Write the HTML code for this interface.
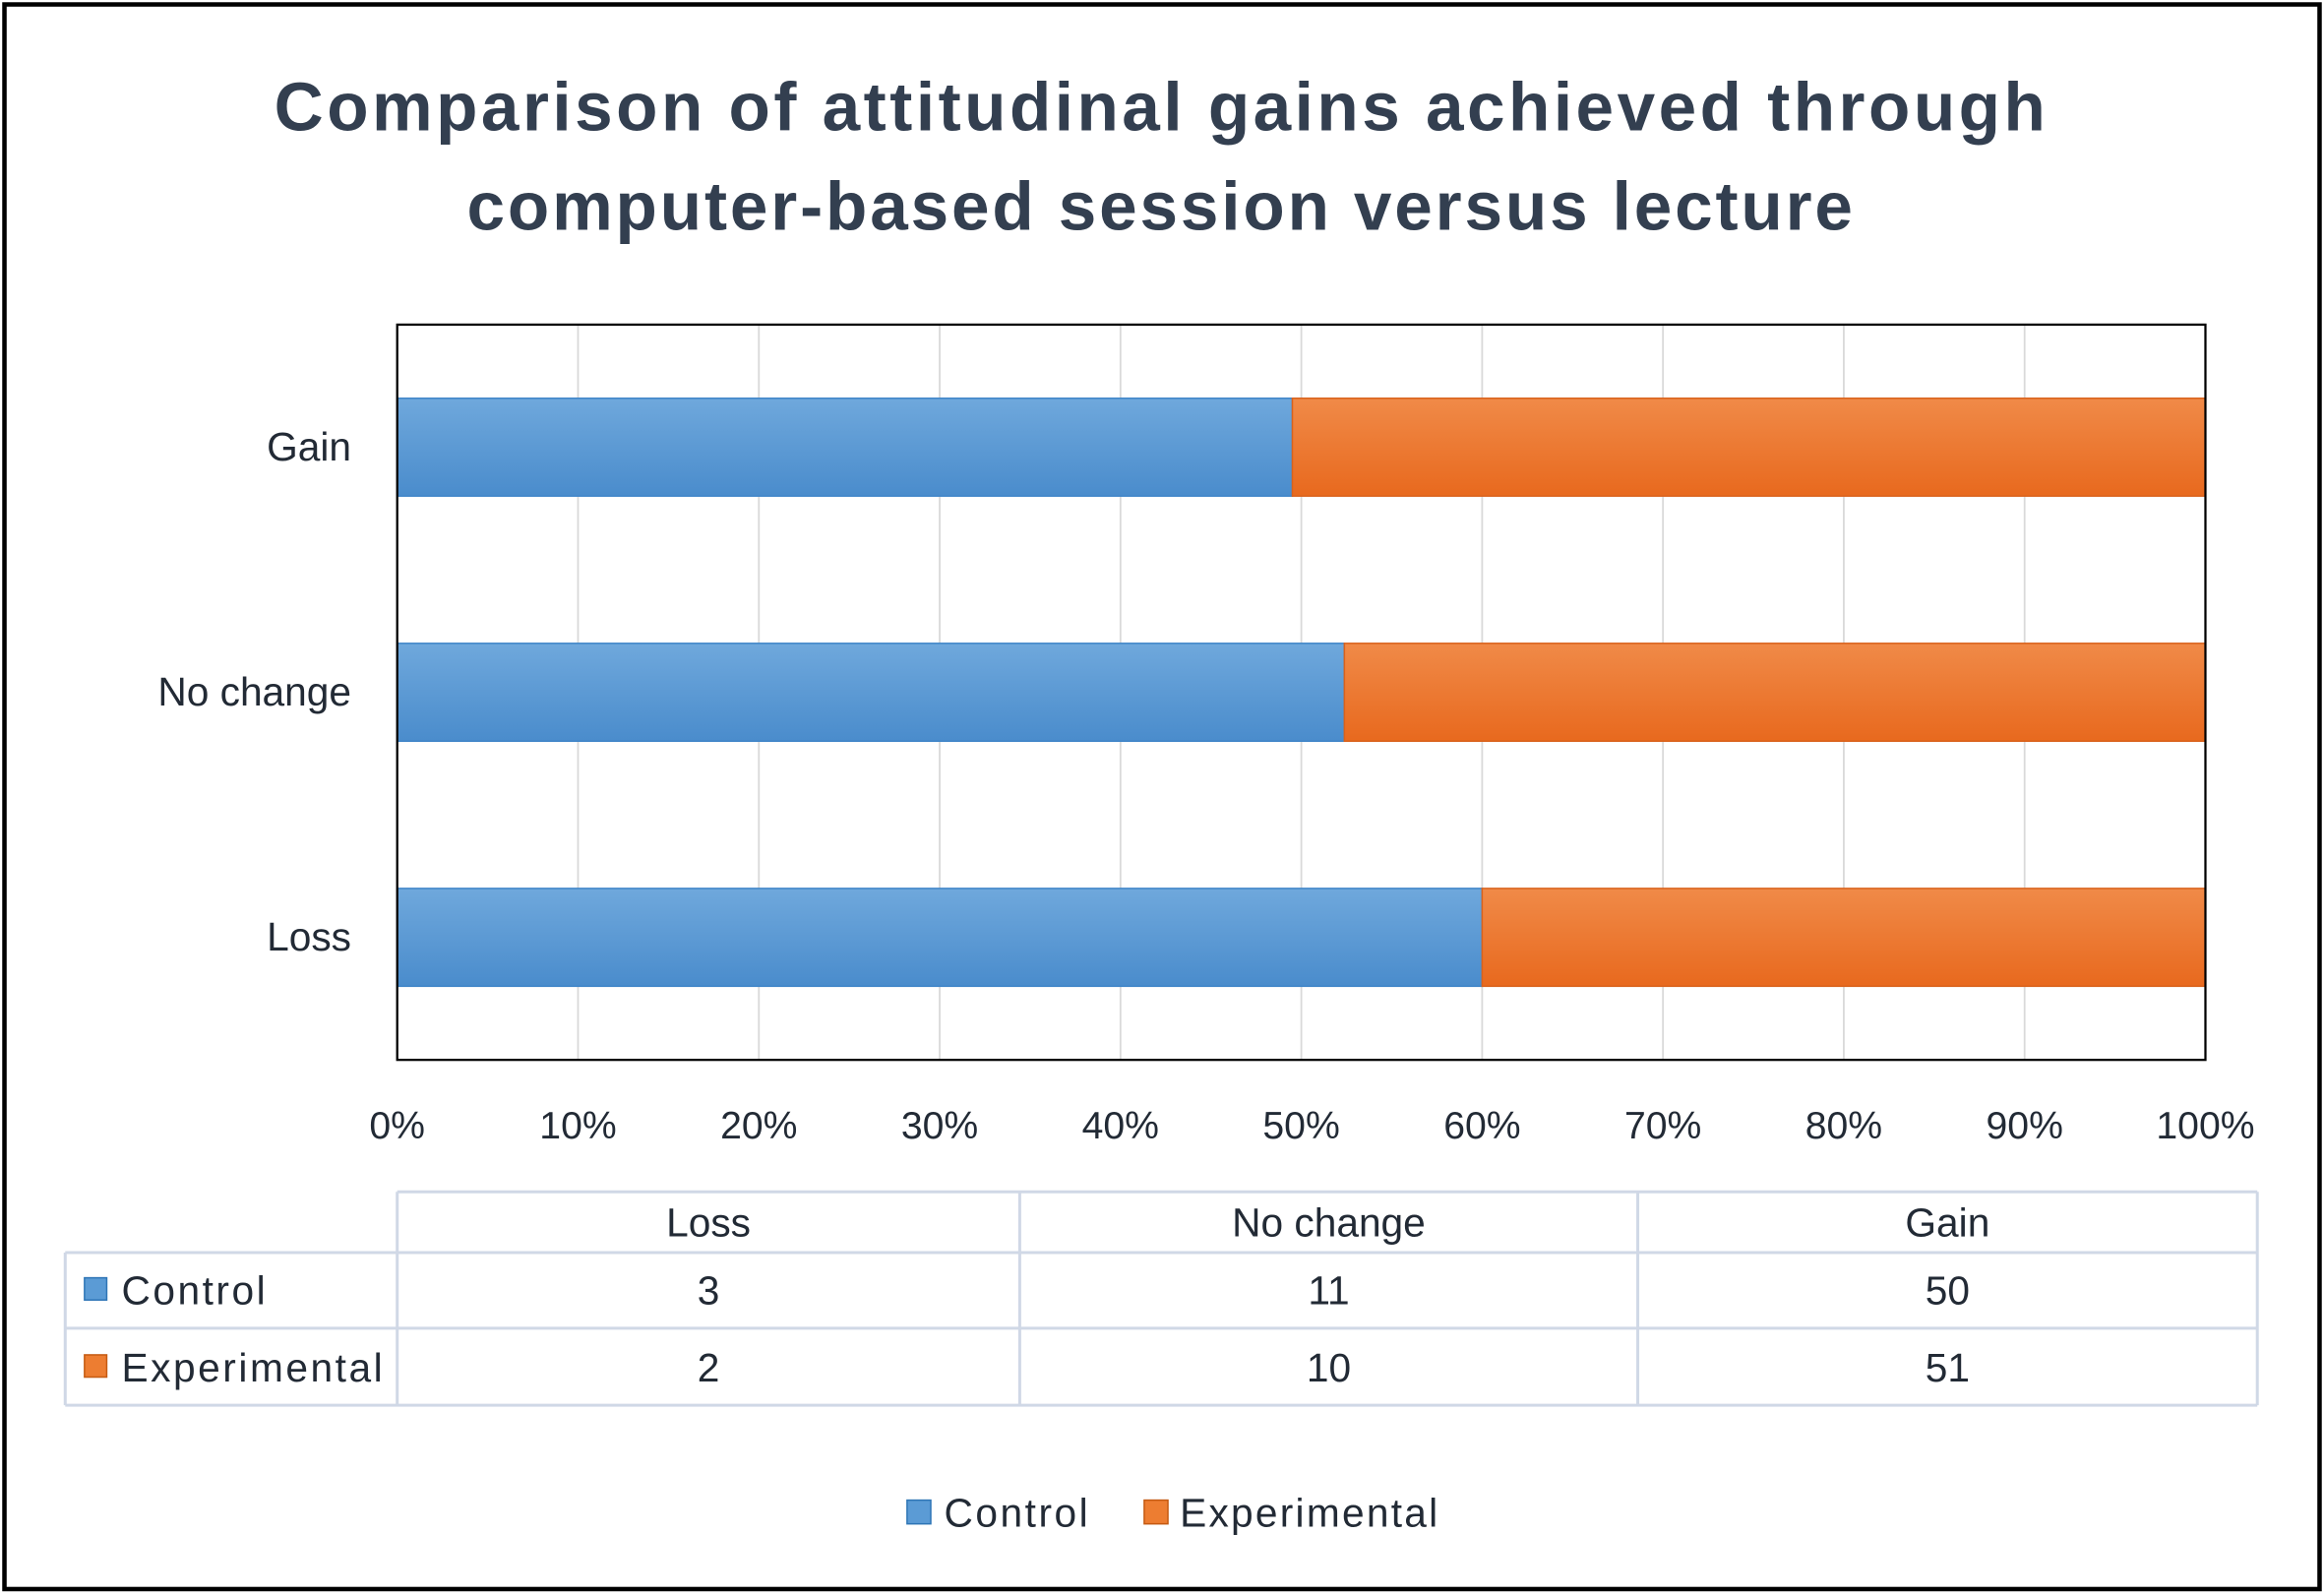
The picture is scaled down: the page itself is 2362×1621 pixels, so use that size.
<!DOCTYPE html>
<html><head><meta charset="utf-8"><style>
html,body{margin:0;padding:0;background:#fff;}
svg{display:block;}
text{font-family:"Liberation Sans",sans-serif;fill:#222a35;}
</style></head><body>
<svg id="chart" width="2362" height="1621" viewBox="0 0 1568 1076" preserveAspectRatio="none" xmlns="http://www.w3.org/2000/svg">
<defs>
<linearGradient id="gb" x1="0" y1="0" x2="0" y2="1"><stop offset="0" stop-color="#6fa8dc"/><stop offset="1" stop-color="#4a8ccc"/></linearGradient>
<linearGradient id="go" x1="0" y1="0" x2="0" y2="1"><stop offset="0" stop-color="#f08a48"/><stop offset="1" stop-color="#e8691e"/></linearGradient>
</defs>
<rect x="3" y="3" width="1562" height="1069" fill="#fff" stroke="#000" stroke-width="3"/>
<text x="185" y="88" font-size="46" font-weight="bold" textLength="1195" lengthAdjust="spacing" style="fill:#333f50">Comparison of attitudinal gains achieved through</text>
<text x="315" y="155" font-size="46" font-weight="bold" textLength="935" lengthAdjust="spacing" style="fill:#333f50">computer-based session versus lecture</text>
<g id="grid"></g>
<g id="bars"></g>
<rect x="268" y="219" width="1220" height="496" fill="none" stroke="#000" stroke-width="1.5"/>
<g id="xticks"></g>
<g id="cats"></g>
<g id="table"></g>
<g id="legend">
<rect x="612" y="1012" width="16" height="16" fill="#5b9bd5" stroke="#2e75b6"/>
<text x="637" y="1030" font-size="27" textLength="97">Control</text>
<rect x="772" y="1012" width="16" height="16" fill="#ed7d31" stroke="#c55a11"/>
<text x="796" y="1030" font-size="27" textLength="174">Experimental</text>
</g>
</svg>
<script>
const categories = ["Loss", "No change", "Gain"];
const controlValues = [3, 11, 50];
const experimentalValues = [2, 10, 51];
const tickLabels = ["0%","10%","20%","30%","40%","50%","60%","70%","80%","90%","100%"];
const NS="http://www.w3.org/2000/svg";
const X0=268,X1=1488,Y0=219,Y1=715;
const xs=f=>X0+f*(X1-X0);
const band=(Y1-Y0)/categories.length;
const yc=i=>Y1-band*(i+0.5);
function mk(tag,attrs,parent,txt){const e=document.createElementNS(NS,tag);for(const k in attrs)e.setAttribute(k,attrs[k]);if(txt!==undefined)e.textContent=txt;document.getElementById(parent).appendChild(e);return e;}
tickLabels.forEach((t,i)=>{
  const f=i/(tickLabels.length-1);
  if(i>0&&i<tickLabels.length-1){const g=mk('line',{x1:xs(f),x2:xs(f),y1:Y0,y2:Y1,stroke:'#d9d9d9','stroke-width':1.2},'grid');
  
  }
  const l=mk('text',{x:xs(f),y:768,'text-anchor':'middle','font-size':26},'xticks',t);
  
  
});
categories.forEach((c,i)=>{
  const tot=controlValues[i]+experimentalValues[i];
  const fc=controlValues[i]/tot;
  const y=yc(i)-33;
  const b1=mk('rect',{x:X0,y:y,width:xs(fc)-X0,height:66,fill:'url(#gb)',stroke:'#3f85c8','stroke-width':1},'bars');
  
  
  const b2=mk('rect',{x:xs(fc),y:y,width:X1-xs(fc),height:66,fill:'url(#go)',stroke:'#d9621c','stroke-width':1},'bars');
  
  
  const t=mk('text',{x:237,y:yc(i)+9,'text-anchor':'end','font-size':27},'cats',c);
  
  
});
const colX=[44,268,688,1105,1523];
const tc='#d0d8e6';
[[268,804,1523,804],[44,845,1523,845],[44,896,1523,896],[44,948,1523,948],
 [44,845,44,948],[268,804,268,948],[688,804,688,948],[1105,804,1105,948],[1523,804,1523,948]].forEach(a=>{
  const l=mk('line',{x1:a[0],y1:a[1],x2:a[2],y2:a[3],stroke:tc,'stroke-width':2},'table');
  
  
});
categories.forEach((c,i)=>{
  const cx=(colX[i+1]+colX[i+2])/2;
  const h=mk('text',{x:cx,y:834,'text-anchor':'middle','font-size':27},'table',c);
  
  
  const a=mk('text',{x:cx,y:880,'text-anchor':'middle','font-size':27},'table',controlValues[i]);
  
  
  const b=mk('text',{x:cx,y:932,'text-anchor':'middle','font-size':27},'table',experimentalValues[i]);
  
  
});
const s1=mk('rect',{x:57,y:862,width:15,height:15,fill:'#5b9bd5',stroke:'#2e75b6'},'table');


const n1=mk('text',{x:82,y:880,'font-size':27,textLength:97},'table','Control');


const s2=mk('rect',{x:57,y:914,width:15,height:15,fill:'#ed7d31',stroke:'#c55a11'},'table');


const n2=mk('text',{x:82,y:932,'font-size':27,textLength:176},'table','Experimental');


</script>
</body></html>
